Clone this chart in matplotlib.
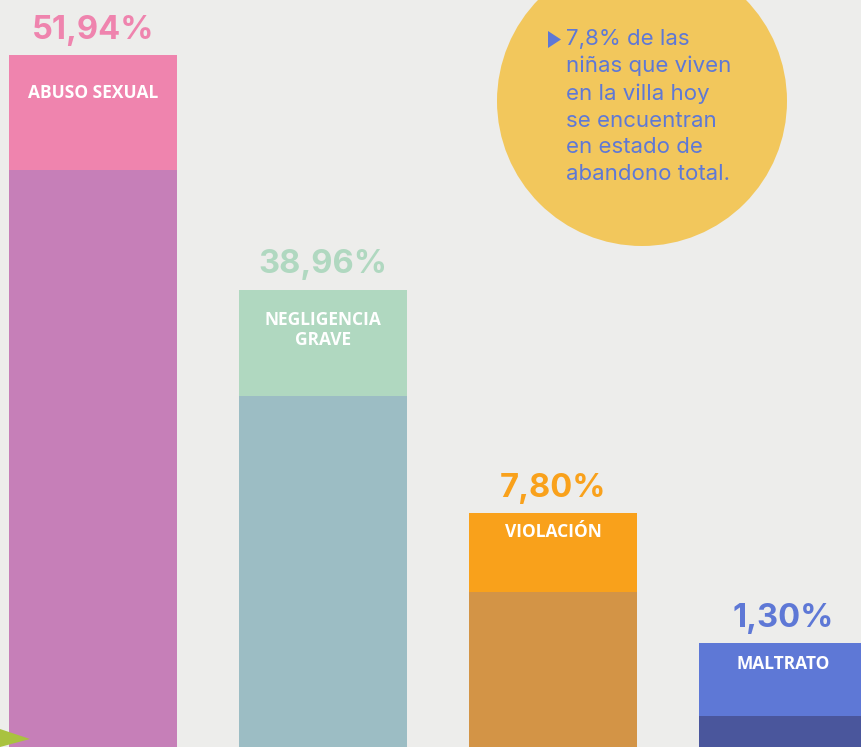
import matplotlib
matplotlib.use("Agg")
import matplotlib.pyplot as plt
from matplotlib.patches import Ellipse, Polygon

# ---- data ----
categories = ["ABUSO SEXUAL", "NEGLIGENCIA\nGRAVE", "VIOLACIÓN", "MALTRATO"]
values = [51.94, 38.96, 7.80, 1.30]
value_labels = ["51,94%", "38,96%", "7,80%", "1,30%"]
# displayed bar heights (decorative)
bar_heights = [692, 457, 234, 104]
lower_heights = [577, 351, 155, 31]
top_colors = ["#EF84AE", "#B0D8C0", "#F9A11B", "#5E78D6"]
low_colors = ["#C67FB8", "#9CBDC4", "#D39446", "#4A569C"]
note_text = "7,8% de las\nniñas que viven\nen la villa hoy\nse encuentran\nen estado de\nabandono total."

W, H = 862, 747
fig = plt.figure(figsize=(W / 100, H / 100), dpi=100)
fig.patch.set_facecolor("#EDEDEB")
ax = fig.add_axes([0, 0, 1, 1])
ax.set_facecolor("#EDEDEB")
ax.set_xlim(-93 / 230, (W - 93) / 230)
ax.set_ylim(0, H)
ax.axis("off")

x = list(range(len(categories)))
width = 168 / 230
ax.bar(x, bar_heights, width=width, color=top_colors, zorder=2)
ax.bar(x, lower_heights, width=width, color=low_colors, zorder=3)

label_offsets = [38, 40, 19, 21]
for i in x:
    ax.text(i, bar_heights[i] + 25, value_labels[i], ha="center", va="center",
            color=top_colors[i], fontsize=23.5, fontweight="bold", family="Inter", zorder=5)
    ax.text(i, bar_heights[i] - label_offsets[i], categories[i], ha="center", va="center",
            color="white", fontsize=12.5, fontweight="bold", family="Open Sans",
            linespacing=1.2, zorder=5)

# small leaf at bottom-left
leaf = Polygon([[0, 0], [0, 18 / H], [30 / W, 8 / H]], closed=True,
               transform=fig.transFigure, facecolor="#A9C23F", edgecolor="none", zorder=10)
fig.patches.append(leaf)

# note circle
circ = Ellipse((642 / W, 1 - 101 / H), 290 / W, 290 / H, transform=fig.transFigure,
               facecolor="#F2C75C", edgecolor="none", zorder=1)
fig.patches.append(circ)
tri = Polygon([[548 / W, 1 - 31 / H], [548 / W, 1 - 48 / H], [561 / W, 1 - 39.5 / H]],
              closed=True, transform=fig.transFigure, facecolor="#5E78D6", edgecolor="none")
fig.patches.append(tri)
fig.text(566 / W, 1 - 29 / H, note_text, ha="left", va="top", color="#5E78D6",
         fontsize=16, family="Inter", linespacing=1.42)

fig.savefig("out.png", dpi=100, facecolor=fig.get_facecolor())
